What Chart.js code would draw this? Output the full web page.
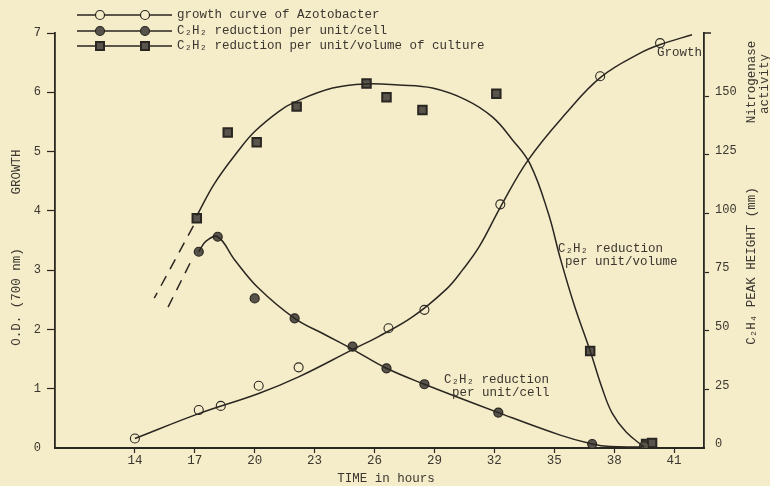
<!DOCTYPE html>
<html>
<head>
<meta charset="utf-8">
<title>Azotobacter growth and nitrogenase activity</title>
<script src="https://cdn.jsdelivr.net/npm/chart.js@4.4.1/dist/chart.umd.min.js"></script>
<style>
    html, body { margin: 0; padding: 0; background: #f5ecc9; }
    canvas { display: block; }
</style>
</head>
<body>
<canvas id="odChart" width="770" height="486"></canvas>
<script>
// Values (hours, O.D. and C2H4 peak height in mm)
const hourTicks = [14, 17, 20, 23, 26, 29, 32, 35, 38, 41];
const odTicks = [0, 1, 2, 3, 4, 5, 6, 7];
const activityTicks = [0, 25, 50, 75, 100, 125, 150];

// growth curve of Azotobacter (open circles, left axis)
const growthHours = [14, 17.2, 18.3, 20.2, 22.2, 26.7, 28.5, 32.3, 37.3, 40.3];
const growthOD = [0.16, 0.64, 0.71, 1.05, 1.36, 2.02, 2.33, 4.11, 6.27, 6.83];

// C2H2 reduction per unit/cell (filled circles, right axis)
const cellHours = [17.2, 18.15, 20.0, 22.0, 24.9, 26.6, 28.5, 32.2, 36.9, 39.5];
const cellActivity = [83.7, 90.1, 63.8, 55.3, 43.2, 34.0, 27.2, 15.1, 1.7, 0.8];

// C2H2 reduction per unit/volume of culture (squares, right axis)
const volumeHours = [17.1, 18.65, 20.1, 22.1, 25.6, 26.6, 28.4, 32.1, 36.8, 39.6, 39.9];
const volumeActivity = [98.0, 134.6, 130.4, 145.6, 155.5, 149.6, 144.2, 151.1, 41.4, 1.7, 2.1];

// hand drawn fitted curves
const growthCurveHours = [14, 17.2, 20.2, 22.2, 24.9, 26.2, 27.9, 29.6, 30.4, 31.25, 32.3, 33.7, 35.6, 37.35, 39.3, 40.35, 41.9];
const growthCurveOD = [0.16, 0.58, 0.92, 1.20, 1.66, 1.88, 2.21, 2.68, 3.0, 3.40, 4.06, 4.86, 5.65, 6.26, 6.66, 6.81, 6.97];

const cellCurveHours = [17.2, 17.55, 18.15, 19.0, 20.2, 22.0, 23.55, 24.9, 26.6, 28.5, 32.2, 35.3, 36.9, 37.8, 39.4];
const cellCurveActivity = [83.7, 88.1, 90.1, 80.2, 68.1, 55.3, 48.2, 42.1, 34.0, 27.2, 15.1, 5.5, 1.7, 0.6, 0.4];

const volumeCurveHours = [17.1, 18.0, 19.2, 20.0, 21.2, 22.0, 23.9, 25.6, 27.2, 28.9, 30.6, 31.9, 32.9, 33.8, 34.7, 35.3, 36.0, 36.8, 37.4, 37.9, 38.6, 39.5];
const volumeCurveActivity = [99, 113, 127, 135, 143.5, 147.5, 153.5, 155.3, 154.8, 153.5, 148.4, 141.2, 131.5, 121, 100.2, 81.0, 61.0, 41.4, 25.5, 14.9, 6.8, 0.4];

// dashed extrapolations below 17 h
const volumeDashHours = [16.93, 14.97];
const volumeDashActivity = [94.7, 63.9];
const cellDashHours = [16.76, 15.59];
const cellDashActivity = [78.8, 58.9];

const INK = '#2a2621';
const TEXT = '#3b362f';
const PAPER = '#f5ecc9';
const CELL_FILL = '#57524a';
const SQUARE_FILL = '#5a554c';
const MONO = '"Liberation Mono", "DejaVu Sans Mono", monospace';

function toPoints(xs, ys) {
    return xs.map((x, i) => ({ x: x, y: ys[i] }));
}

function curve(xs, ys, axis, dash) {
    return {
        type: 'line',
        data: toPoints(xs, ys),
        yAxisID: axis,
        borderColor: INK,
        borderWidth: 1.5,
        borderDash: dash || [],
        pointRadius: 0,
        tension: dash ? 0 : 0.4,
        fill: false
    };
}

function markers(xs, ys, axis, style) {
    return Object.assign({
        type: 'line',
        data: toPoints(xs, ys),
        yAxisID: axis,
        showLine: false,
        borderColor: INK,
        pointBorderColor: INK
    }, style);
}

// Legend, curve labels and axis titles are typed text on the original
const paperText = {
    id: 'paperText',
    afterDraw(chart) {
        const ctx = chart.ctx;
        const area = chart.chartArea;
        ctx.save();
        ctx.font = '12.5px ' + MONO;
        ctx.fillStyle = TEXT;
        ctx.strokeStyle = INK;
        ctx.textBaseline = 'middle';
        ctx.textAlign = 'left';

        // legend
        const rows = [
            { y: 15, text: 'growth curve of Azotobacter', mark: 'open' },
            { y: 31, text: 'C\u2082H\u2082 reduction per unit/cell', mark: 'filled' },
            { y: 46, text: 'C\u2082H\u2082 reduction per unit/volume of culture', mark: 'square' }
        ];
        rows.forEach(row => {
            ctx.lineWidth = 1.3;
            ctx.beginPath();
            ctx.moveTo(77, row.y);
            ctx.lineTo(172, row.y);
            ctx.stroke();
            [100, 145].forEach(mx => {
                ctx.beginPath();
                if (row.mark === 'square') {
                    ctx.rect(mx - 4, row.y - 4, 8, 8);
                    ctx.fillStyle = SQUARE_FILL;
                } else {
                    ctx.arc(mx, row.y, 4.5, 0, Math.PI * 2);
                    ctx.fillStyle = row.mark === 'open' ? PAPER : CELL_FILL;
                }
                ctx.fill();
                ctx.lineWidth = row.mark === 'square' ? 2 : 1.2;
                ctx.stroke();
            });
            ctx.fillStyle = TEXT;
            ctx.fillText(row.text, 177, row.y);
        });

        // labels on the curves
        ctx.fillText('Growth', 657, 53);
        ctx.fillText('C\u2082H\u2082 reduction', 558, 249);
        ctx.fillText('per unit/volume', 565, 262);
        ctx.fillText('C\u2082H\u2082 reduction', 444, 380);
        ctx.fillText('per unit/cell', 452, 393);

        // axis titles
        ctx.textAlign = 'center';
        ctx.fillText('TIME in hours', 386, 479);
        const rotated = (text, x, y) => {
            ctx.save();
            ctx.translate(x, y);
            ctx.rotate(-Math.PI / 2);
            ctx.fillText(text, 0, 0);
            ctx.restore();
        };
        rotated('O.D. (700 nm)', 17, 297);
        rotated('GROWTH', 17, 172);
        rotated('C\u2082H\u2084 PEAK HEIGHT (mm)', 752, 266);
        rotated('Nitrogenase', 752, 82);
        rotated('activity', 765, 84);

        // small bracket on top of the right axis
        ctx.lineWidth = 1.5;
        ctx.beginPath();
        ctx.moveTo(area.right, area.top);
        ctx.lineTo(area.right + 7, area.top);
        ctx.stroke();
        ctx.restore();
    }
};

const tickFont = { family: MONO, size: 12.5 };

function hideZeroTick(context) {
    return context.tick && context.tick.value === 0 ? 'rgba(0,0,0,0)' : INK;
}

new Chart(document.getElementById('odChart'), {
    data: {
        datasets: [
            curve(growthCurveHours, growthCurveOD, 'y'),
            curve(cellCurveHours, cellCurveActivity, 'y2'),
            curve(volumeCurveHours, volumeCurveActivity, 'y2'),
            curve(volumeDashHours, volumeDashActivity, 'y2', [11, 8]),
            curve(cellDashHours, cellDashActivity, 'y2', [11, 8]),
            markers(growthHours, growthOD, 'y', {
                pointStyle: 'circle',
                pointRadius: 4.5,
                pointBackgroundColor: PAPER,
                pointBorderWidth: 1.1
            }),
            markers(cellHours, cellActivity, 'y2', {
                pointStyle: 'circle',
                pointRadius: 4.5,
                pointBackgroundColor: CELL_FILL,
                pointBorderWidth: 1.2
            }),
            markers(volumeHours, volumeActivity, 'y2', {
                pointStyle: 'rect',
                pointRadius: 6,
                pointBackgroundColor: SQUARE_FILL,
                pointBorderWidth: 2
            })
        ]
    },
    options: {
        responsive: false,
        animation: false,
        layout: {
            padding: { top: 33, left: 0, right: 0, bottom: 0 }
        },
        plugins: {
            legend: { display: false },
            tooltip: { enabled: false }
        },
        scales: {
            x: {
                type: 'linear',
                min: 10,
                max: 42.5,
                afterBuildTicks: scale => {
                    scale.ticks = hourTicks.map(v => ({ value: v }));
                },
                afterFit: scale => { scale.height = 38; },
                border: { display: true, color: INK, width: 2 },
                grid: { drawOnChartArea: false, tickLength: 5, color: INK, tickWidth: 1.2 },
                ticks: { color: TEXT, font: tickFont, padding: 0, maxRotation: 0 }
            },
            y: {
                type: 'linear',
                position: 'left',
                min: 0,
                max: 7,
                afterBuildTicks: scale => {
                    scale.ticks = odTicks.map(v => ({ value: v }));
                },
                afterFit: scale => { scale.width = 55; },
                border: { display: true, color: INK, width: 1.8 },
                grid: { drawOnChartArea: false, tickLength: 8, color: hideZeroTick, tickWidth: 1.2 },
                ticks: { color: TEXT, font: { family: MONO, size: 12 }, padding: 6 }
            },
            y2: {
                type: 'linear',
                position: 'right',
                min: 0,
                max: 177,
                afterBuildTicks: scale => {
                    scale.ticks = activityTicks.map(v => ({ value: v }));
                },
                afterFit: scale => { scale.width = 66; },
                border: { display: true, color: INK, width: 1.8 },
                grid: { drawOnChartArea: false, tickLength: 5, color: hideZeroTick, tickWidth: 1.2 },
                ticks: { color: TEXT, font: { family: MONO, size: 12 }, padding: 6, labelOffset: -4 }
            }
        }
    },
    plugins: [paperText]
});
</script>
</body>
</html>
